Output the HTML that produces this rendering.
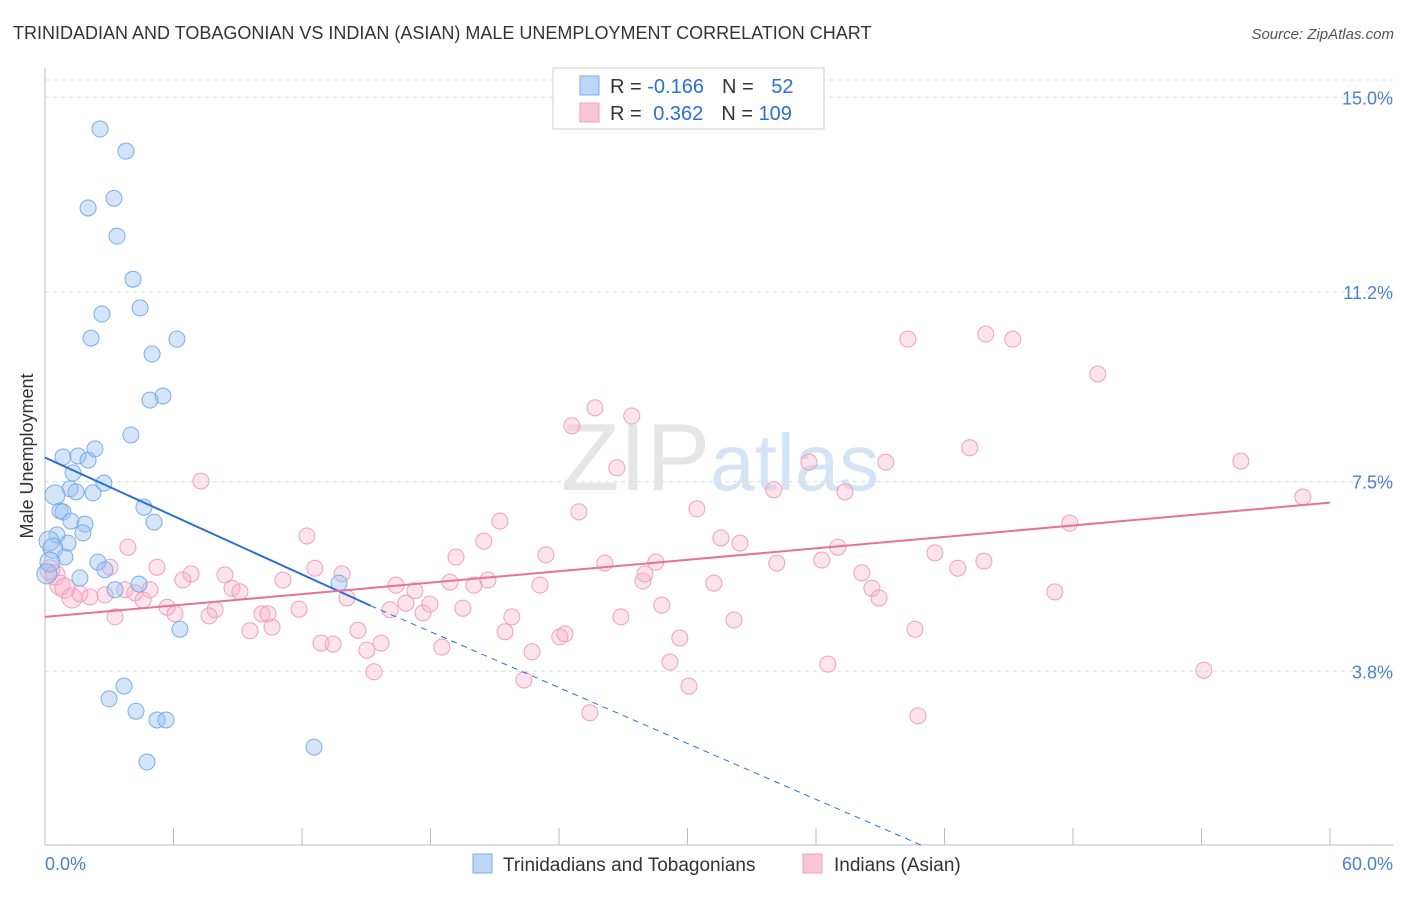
<!DOCTYPE html>
<html><head><meta charset="utf-8"><style>
body{margin:0;background:#fff;font-family:"Liberation Sans",sans-serif;}
svg text{font-family:"Liberation Sans",sans-serif;}
</style></head><body>
<svg id="chart" width="1406" height="892" xmlns="http://www.w3.org/2000/svg">
<text x="13" y="39" font-size="18" fill="#333">TRINIDADIAN AND TOBAGONIAN VS INDIAN (ASIAN) MALE UNEMPLOYMENT CORRELATION CHART</text>
<text x="1394" y="39" font-size="15" fill="#555" text-anchor="end" font-style="italic">Source: ZipAtlas.com</text>
<text x="720" y="490" font-size="96" fill="#e6e6e6" text-anchor="middle" font-family="Liberation Serif">ZIP<tspan fill="#d4e4f6" font-family="Liberation Sans" font-size="80">atlas</tspan></text>
<g id="grid"></g>
<g id="axes"></g>
<g id="pts"></g>
<g id="lines"></g>
<text transform="translate(33,456) rotate(-90)" font-size="18" fill="#333" text-anchor="middle">Male Unemployment</text>
<g>
<rect x="553" y="68" width="271" height="61" fill="#fff" stroke="#ccc"/>
<rect x="580" y="76" width="19" height="19" fill="#bcd6f6" stroke="#7aaee8"/>
<rect x="580" y="103" width="19" height="19" fill="#f9c6d6" stroke="#f0a0bc"/>
<text x="610" y="93" font-size="20" fill="#333">R = <tspan fill="#2a70d6">-0.166</tspan><tspan dx="18">N = </tspan><tspan fill="#2a70d6" dx="12">52</tspan></text>
<text x="610" y="120" font-size="20" fill="#333">R = <tspan fill="#2a70d6" dx="6">0.362</tspan><tspan dx="18">N = </tspan><tspan fill="#2a70d6">109</tspan></text>
</g>
<g>
<rect x="473" y="854" width="19" height="19" fill="#bcd6f6" stroke="#7aaee8"/>
<text x="503" y="871" font-size="19" fill="#333">Trinidadians and Tobagonians</text>
<rect x="803" y="854" width="19" height="19" fill="#f9c6d6" stroke="#f0a0bc"/>
<text x="834" y="871" font-size="19" fill="#333">Indians (Asian)</text>
</g>
</svg>
<script>
const xTicks=[0,6,12,18,24,30,36,42,48,54,60];
const yTicks=[3.8,7.5,11.2,15.0];
const yTickLabels=["3.8%","7.5%","11.2%","15.0%"];
const blueX=[2.57,3.78,2.01,3.22,3.36,4.11,4.44,2.66,2.15,6.16,5.0,5.51,4.9,4.01,2.33,0.84,1.54,2.01,1.31,2.75,1.17,1.45,0.47,2.24,0.7,0.84,4.62,1.21,1.87,5.09,1.77,0.56,0.19,1.07,0.37,0.93,0.23,2.47,2.8,1.63,0.09,4.39,3.27,13.73,6.3,3.69,2.99,4.25,5.23,5.65,12.56,4.76];
const blueY=[14.38,13.95,12.84,13.03,12.29,11.45,10.89,10.77,10.30,10.28,9.99,9.17,9.09,8.41,8.14,7.98,8.0,7.92,7.67,7.47,7.36,7.30,7.24,7.28,6.93,6.91,7.0,6.73,6.67,6.71,6.5,6.46,6.34,6.30,6.2,6.03,5.93,5.93,5.78,5.62,5.7,5.5,5.39,5.52,4.62,3.51,3.26,3.02,2.85,2.85,2.32,2.03];
const pinkX=[7.28,12.23,3.87,3.03,5.23,6.44,6.82,8.4,8.73,7.94,7.66,9.57,10.6,11.11,12.6,11.86,12.89,13.45,13.87,14.1,14.61,15.69,15.03,15.36,16.39,16.11,16.85,17.27,17.65,17.97,18.53,18.91,19.19,19.51,20.03,20.68,20.49,21.24,21.48,21.8,22.36,22.74,23.11,23.39,24.04,24.28,24.6,24.93,25.44,25.68,26.14,26.7,26.89,27.4,27.92,28.01,28.52,28.8,29.18,29.64,30.07,30.44,31.23,31.56,32.17,32.45,34.03,34.17,35.67,36.27,36.55,37.02,37.35,38.14,38.61,38.94,39.26,40.29,40.62,40.76,41.55,42.62,43.18,43.84,43.93,45.19,47.15,47.85,49.16,54.11,55.84,58.73,0.23,0.47,0.7,0.93,1.26,1.63,2.1,2.8,3.27,3.73,4.2,4.58,4.9,5.7,6.07,9.1,10.13,10.41];
const pinkY=[7.51,6.44,6.22,5.83,5.83,5.58,5.70,5.68,5.42,5.0,4.88,4.59,4.66,5.58,5.81,5.01,4.35,4.33,5.70,5.23,4.6,4.35,4.21,3.79,5.48,5.0,5.13,5.37,4.94,5.11,4.27,5.54,6.03,5.03,5.48,5.58,6.34,6.73,4.57,4.86,3.63,4.18,5.48,6.07,4.47,4.53,8.59,6.91,2.99,8.94,5.91,7.77,4.86,8.78,5.56,5.70,5.93,5.09,3.98,4.45,3.51,6.97,5.52,6.4,4.8,6.3,7.34,5.91,7.88,5.97,3.94,6.22,7.3,5.72,5.42,5.23,7.88,10.28,4.62,2.93,6.11,5.81,8.16,5.95,10.38,10.28,5.35,6.69,9.6,3.82,7.9,7.2,5.78,5.68,5.48,5.42,5.23,5.31,5.25,5.29,4.86,5.39,5.33,5.19,5.39,5.05,4.92,5.35,4.92,4.92];
const blueTrendX=[0,15.2,40.9];
const blueTrendY=[7.97,5.08,0.41];
const pinkTrendX=[0,60];
const pinkTrendY=[4.86,7.09];
const NS="http://www.w3.org/2000/svg";
const sx=v=>45+v*(1330-45)/60;
const sy=v=>866-v*51.25;
function mk(tag,attrs,parent){const e=document.createElementNS(NS,tag);for(const k in attrs)e.setAttribute(k,attrs[k]);parent.appendChild(e);return e;}
const grid=document.getElementById('grid'),axes=document.getElementById('axes'),pts=document.getElementById('pts'),lines=document.getElementById('lines');
let gl=mk('line',{x1:45,x2:1393,y1:80,y2:80,stroke:'#ddd','stroke-dasharray':'4,4'},grid);


yTicks.forEach((t,i)=>{
 const y=sy(t);
 const l=mk('line',{x1:45,x2:1393,y1:y,y2:y,stroke:'#ddd','stroke-dasharray':'4,4'},grid);
 
 
 const tx=mk('text',{x:1393,y:y+7,'font-size':18,fill:'#4a7fd4','text-anchor':'end'},axes);
 tx.textContent=yTickLabels[i];
 
 
});
let ya=mk('line',{x1:45,x2:45,y1:68,y2:845,stroke:'#bbb'},axes);


let xa=mk('line',{x1:45,x2:1393,y1:845,y2:845,stroke:'#bbb'},axes);


xTicks.forEach(t=>{
 const tk=mk('line',{x1:sx(t),x2:sx(t),y1:828,y2:845,stroke:'#bbb'},axes);
 
 
});
let xl0=mk('text',{x:45,y:870,'font-size':18,fill:'#4a7fd4'},axes);xl0.textContent=xTicks[0].toFixed(1)+'%';


let xl1=mk('text',{x:1393,y:870,'font-size':18,fill:'#4a7fd4','text-anchor':'end'},axes);xl1.textContent=xTicks[xTicks.length-1].toFixed(1)+'%';


pinkX.forEach((v,i)=>{
 const c=mk('circle',{cx:sx(v),cy:sy(pinkY[i]),r:v<1.5?10:8,fill:'rgba(246,176,200,0.35)',stroke:'#f0a0bc','stroke-width':1},pts);
 
 
});
blueX.forEach((v,i)=>{
 const c=mk('circle',{cx:sx(v),cy:sy(blueY[i]),r:v<0.5?10:8,fill:'rgba(150,190,240,0.4)',stroke:'#7aaee8','stroke-width':1},pts);
 
 
});
let b1=mk('line',{x1:sx(blueTrendX[0]),y1:sy(blueTrendY[0]),x2:sx(blueTrendX[1]),y2:sy(blueTrendY[1]),stroke:'#2a70d6','stroke-width':2},lines);


let b2=mk('line',{x1:sx(blueTrendX[1]),y1:sy(blueTrendY[1]),x2:sx(blueTrendX[2]),y2:sy(blueTrendY[2]),stroke:'#2a70d6','stroke-width':1,'stroke-dasharray':'6,5'},lines);


let p1=mk('line',{x1:sx(pinkTrendX[0]),y1:sy(pinkTrendY[0]),x2:sx(pinkTrendX[1]),y2:sy(pinkTrendY[1]),stroke:'#e8709a','stroke-width':2},lines);


</script>
</body></html>
